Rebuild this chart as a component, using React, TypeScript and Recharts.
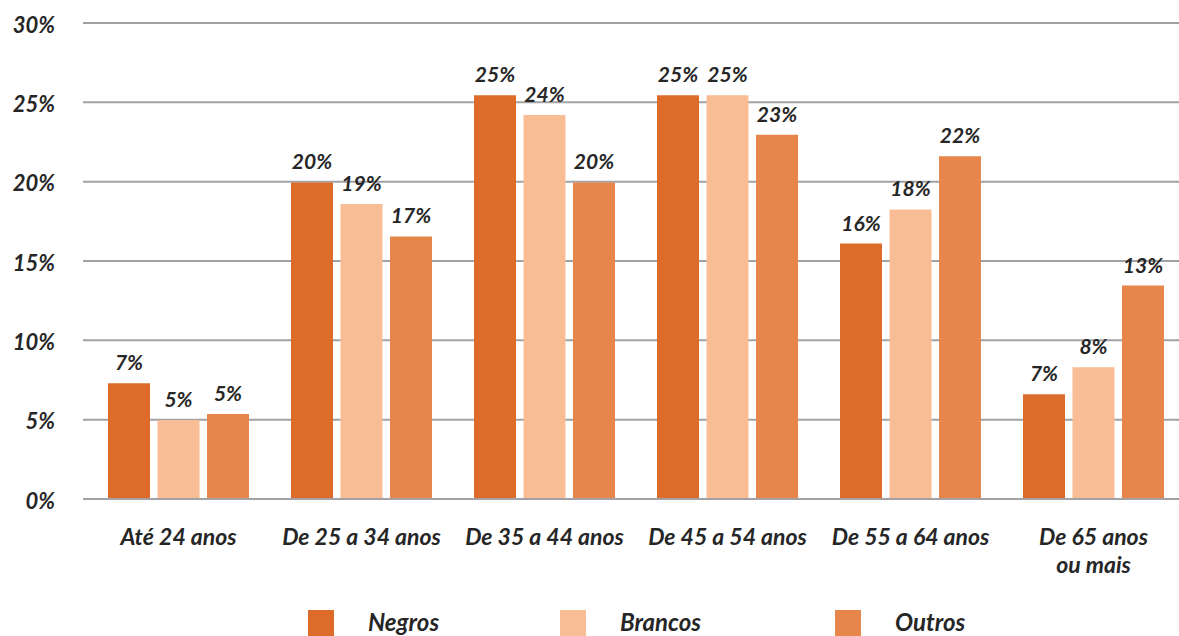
import React from 'react';
import { BarChart, Bar, XAxis, YAxis, CartesianGrid, LabelList, Legend } from 'recharts';

// Faixas etárias (quebra de linha com "\n")
const categories = [
  'Até 24 anos',
  'De 25 a 34 anos',
  'De 35 a 44 anos',
  'De 45 a 54 anos',
  'De 55 a 64 anos',
  'De 65 anos\nou mais',
];

// Percentuais por grupo
const negros = [7.3, 19.95, 25.45, 25.45, 16.1, 6.6];
const brancos = [4.98, 18.6, 24.2, 25.45, 18.25, 8.3];
const outros = [5.35, 16.55, 19.95, 22.95, 21.6, 13.45];

const seriesOrder = ['Negros', 'Brancos', 'Outros'] as const;

const yTicks = [0, 5, 10, 15, 20, 25, 30];

const data = categories.map((cat, i) => ({
  cat,
  Negros: negros[i],
  Brancos: brancos[i],
  Outros: outros[i],
}));

const COLORS = { Negros: '#DD6B2A', Brancos: '#F9BD95', Outros: '#E7864B' };
const FONT = 'Lato, "Open Sans", sans-serif';
const TEXT = '#262626';
const GRID = '#A2A2A6';

const textStyle = {
  fontFamily: FONT,
  fontStyle: 'italic' as const,
  fontWeight: 700,
};

const pct = (v: any) => `${Math.round(Number(v))}%`;

function CategoryTick(props: any) {
  const { x, y, payload } = props;
  const lines = String(payload.value).split('\n');
  return (
    <text x={x} y={y} textAnchor="middle" fill={TEXT} fontSize={23} style={textStyle}>
      {lines.map((line, i) => (
        <tspan key={i} x={x} dy={i === 0 ? 46 : 28}>
          {line}
        </tspan>
      ))}
    </text>
  );
}

// Distância entre o início de cada item da legenda
const legendItemWidths = [252, 275, 140];

function LegendContent(props: any) {
  const items = [...(props.payload || [])].sort(
    (a: any, b: any) =>
      seriesOrder.indexOf(a.value as any) - seriesOrder.indexOf(b.value as any)
  );
  return (
    <div style={{ display: 'flex', flexDirection: 'row' }}>
      {items.map((item: any, i: number) => (
        <div
          key={item.value}
          style={{ display: 'flex', alignItems: 'flex-start', width: legendItemWidths[i] }}
        >
          <div style={{ width: 26, height: 26, background: item.color, flex: '0 0 auto' }} />
          <span
            style={{
              ...textStyle,
              marginLeft: 34,
              fontSize: 24,
              color: TEXT,
              lineHeight: '24px',
              whiteSpace: 'nowrap',
            }}
          >
            {item.value}
          </span>
        </div>
      ))}
    </div>
  );
}

const labelStyle = { ...textStyle, fontSize: 21, fill: TEXT };

export default function App() {
  return (
    <div
      style={{
        position: 'absolute',
        left: 0,
        top: 0,
        width: 1179,
        height: 636,
        overflow: 'hidden',
        background: '#ffffff',
      }}
    >
      <BarChart
        width={1186}
        height={636}
        data={data}
        margin={{ top: 23, right: 1, left: 0, bottom: 0 }}
        barGap={7.5}
        barSize={42}
      >
        <CartesianGrid vertical={false} stroke={GRID} strokeWidth={2} />
        <XAxis
          dataKey="cat"
          height={137}
          padding={{ left: 4, right: 0 }}
          axisLine={{ stroke: GRID, strokeWidth: 2 }}
          tickLine={false}
          tickSize={0}
          tickMargin={0}
          interval={0}
          tick={<CategoryTick />}
        />
        <YAxis
          width={83}
          domain={[0, 30]}
          ticks={yTicks}
          axisLine={false}
          tickLine={false}
          tickSize={0}
          tickMargin={28}
          tickFormatter={(v: number) => `${v}%`}
          tick={{ ...textStyle, fontSize: 22, fill: TEXT, dy: 2 }}
        />
        <Legend
          layout="horizontal"
          verticalAlign="middle"
          align="center"
          wrapperStyle={{ left: 308, top: 610, width: 800, height: 26 }}
          content={<LegendContent />}
        />
        {seriesOrder.map((key) => (
          <Bar key={key} dataKey={key} name={key} fill={COLORS[key]} isAnimationActive={false}>
            <LabelList dataKey={key} position="top" offset={13} formatter={pct} style={labelStyle} />
          </Bar>
        ))}
      </BarChart>
    </div>
  );
}
